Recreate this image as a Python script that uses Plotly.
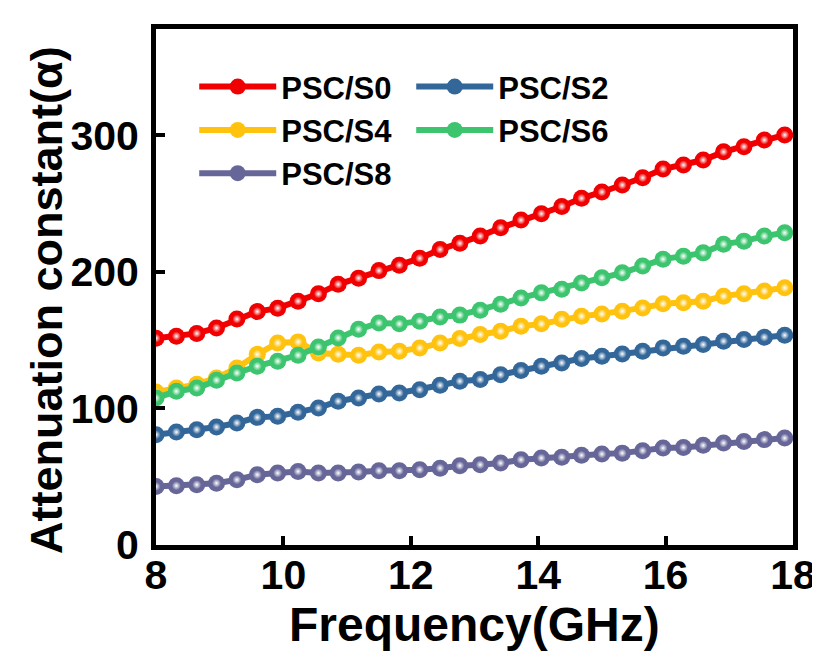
import plotly.graph_objects as go

freq = [8.00, 8.32, 8.64, 8.95, 9.27, 9.59, 9.91, 10.23, 10.55, 10.86, 11.18, 11.50,
        11.82, 12.14, 12.46, 12.77, 13.09, 13.41, 13.73, 14.05, 14.37, 14.68, 15.00,
        15.32, 15.64, 15.96, 16.28, 16.59, 16.91, 17.23, 17.55, 17.87]

s0 = [151.5, 153, 155, 159, 165.5, 171, 173.5, 178.6, 184, 191, 195.5, 201, 205, 210,
      216.5, 221, 226.3, 232.4, 238, 242.7, 248, 254, 258.6, 263.7, 269, 275.4, 278.4,
      282, 288, 291.8, 296.7, 300.4]
s2 = [80.8, 82.7, 84.5, 86.4, 89.4, 93.5, 94.3, 97.2, 100.4, 105.3, 107.7, 110.6, 111.4,
      113.8, 117, 120, 121.2, 124.8, 127.8, 131, 133.4, 136.6, 138.3, 140, 142, 144.4,
      145.6, 146.8, 149.3, 150.5, 152.2, 153.7]
s4 = [112, 115, 117.7, 122.4, 129.7, 139.7, 148, 148.8, 140.7, 139.7, 139, 141.4, 142,
      144.4, 148, 151.3, 154.2, 156.6, 160.3, 162, 165.4, 167.6, 169.3, 171.3, 173.7,
      176.7, 177.4, 178.6, 182.3, 184, 186, 188.4]
s6 = [107.7, 112.6, 115, 120.7, 126, 131, 134.6, 139, 145, 151.7, 158, 162.7, 162, 164,
      167, 168.4, 172, 176.4, 181, 184.7, 187.4, 192, 195.7, 199.4, 204.3, 209.4, 211.6,
      214, 220.4, 222.6, 226.3, 228.7]
s8 = [42.9, 43.4, 44.2, 45.3, 47.8, 51.5, 52.7, 53.9, 52.7, 52.7, 53.4, 54.4, 54.4, 55.2,
      56.3, 58.1, 58.8, 60, 62.5, 63.7, 64.2, 65.7, 66.6, 67.3, 69.1, 71, 71.5, 73, 74.7,
      75.9, 77.2, 78.3]

names = ["PSC/S0", "PSC/S2", "PSC/S4", "PSC/S6", "PSC/S8"]
series = [s0, s2, s4, s6, s8]
colors = ["#F00000", "#336699", "#FFC20E", "#3CC46E", "#676699"]

x_ticks = [8, 10, 12, 14, 16, 18]
y_ticks = [0, 100, 200, 300]
x_title = "Frequency(GHz)"
y_title = "Attenuation constant(α)"

FONT = "Liberation Sans, Arial, sans-serif"

fig = go.Figure()
for name, ys, col in zip(names, series, colors):
    fig.add_trace(go.Scatter(
        x=freq, y=ys, name=name, mode="lines+markers",
        line=dict(color=col, width=6),
        marker=dict(color=col, size=17, line=dict(width=0)),
    ))
    fig.add_trace(go.Scatter(
        x=freq, y=ys, mode="markers", showlegend=False, hoverinfo="skip",
        marker=dict(color=col, size=9, line=dict(width=0),
                    gradient=dict(type="radial", color="white")),
    ))

axis_common = dict(
    showline=True, linecolor="black", linewidth=5, mirror=True,
    ticks="inside", ticklen=9, tickwidth=4, tickcolor="black",
    showgrid=False, zeroline=False,
    tickfont=dict(family=FONT, size=41, color="black", weight="bold"),
)

fig.update_layout(
    width=820, height=651,
    margin=dict(l=148, r=24, t=21, b=114),
    paper_bgcolor="white", plot_bgcolor="white",
    font=dict(family=FONT, color="black"),
    xaxis=dict(range=[8, 18], tickvals=x_ticks, ticklabelstandoff=-10,
               **axis_common),
    yaxis=dict(range=[0, 378], tickvals=y_ticks, ticklabelstandoff=4,
               **axis_common),
    legend=dict(orientation="h", x=0.06, y=0.94, xanchor="left", yanchor="top",
                entrywidth=125, entrywidthmode="pixels", traceorder="normal",
                font=dict(family=FONT, size=31, color="black", weight="bold"),
                bgcolor="rgba(0,0,0,0)", itemwidth=77),
    showlegend=True,
    annotations=[
        dict(text=x_title, xref="paper", yref="paper", x=0.5, y=-0.155,
             xanchor="center", yanchor="middle", showarrow=False,
             font=dict(family=FONT, size=48, color="black", weight="bold")),
        dict(text=y_title, xref="paper", yref="paper", x=-0.171, y=0.475,
             xanchor="center", yanchor="middle", showarrow=False, textangle=-90,
             font=dict(family=FONT, size=45, color="black", weight="bold")),
    ],
)

fig.write_html("out.html")
